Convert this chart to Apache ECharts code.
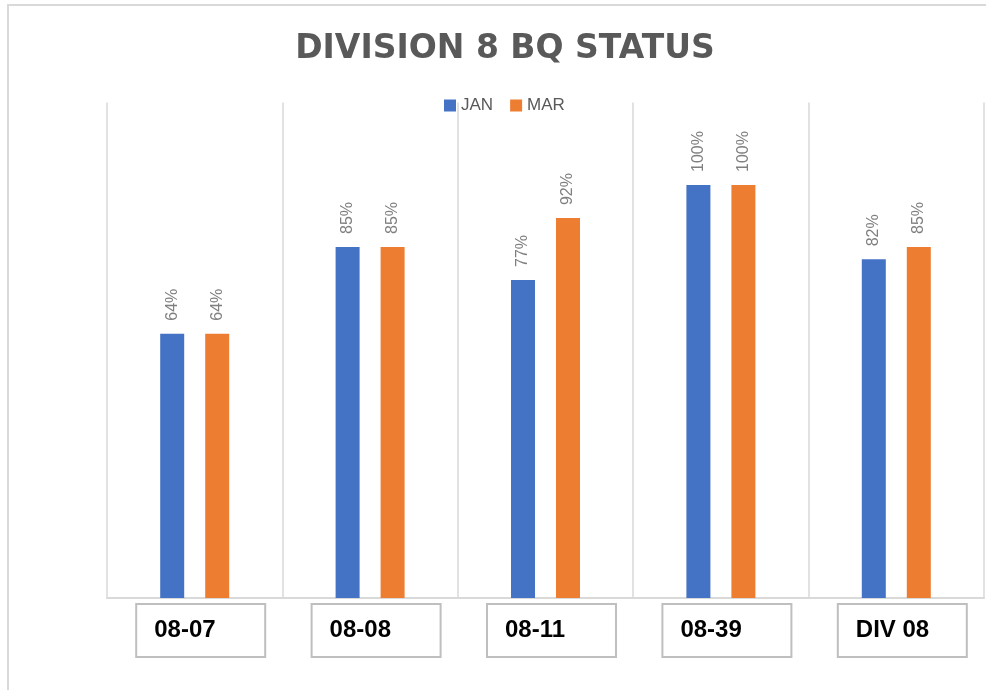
<!DOCTYPE html>
<html>
<head>
<meta charset="utf-8">
<script src="https://cdn.jsdelivr.net/npm/echarts@6/dist/echarts.min.js"></script>
<style>
  html, body { margin: 0; padding: 0; background: #fff; }
  #frame { position: absolute; left: 7px; top: 4px; width: 1000px; height: 700px;
           border-left: 2px solid #d9d9d9; border-top: 2px solid #d9d9d9; }
  #main { position: absolute; left: 0; top: 0; width: 986px; height: 690px; }
</style>
</head>
<body>
<div id="frame"></div>
<div id="main"></div>
<script>
// 数据
var categories = ['08-07', '08-08', '08-11', '08-39', 'DIV 08'];
var janValues = [64, 85, 77, 100, 82];
var marValues = [64, 85, 92, 100, 85];
var seriesNames = ['JAN', 'MAR'];

(function(){
    var chart = echarts.init(document.getElementById('main'));
    var catFont = 'bold 24px "Liberation Sans"';
    // 量一下文字宽度, 让框里的文字靠左
    var ctx = document.createElement('canvas').getContext('2d');
    ctx.font = catFont;
    var rich = { pad: { width: 12 } };
    for (var i = 0; i < categories.length; i++) {
        var w = ctx.measureText(categories[i]).width;
        rich['b' + i] = {
            height: 25,
            padding: [14, Math.max(0, 111 - w), 14, 18],
            borderColor: '#bfbfbf',
            borderWidth: 2,
            fontFamily: 'Liberation Sans',
            fontWeight: 'bold',
            fontSize: 24,
            color: '#000'
        };
    }
    var labelStyle = {
        show: true,
        position: 'top',
        rotate: 90,
        distance: 13,
        align: 'left',
        verticalAlign: 'middle',
        formatter: '{c}%',
        color: '#7f7f7f',
        fontSize: 16,
        fontFamily: 'Liberation Sans'
    };
    var option = {
        animation: false,
        title: {
            text: 'DIVISION 8 BQ STATUS',
            left: 500,
            textAlign: 'center',
            top: 28,
            textStyle: {
                fontFamily: 'DejaVu Sans',
                fontWeight: 'bold',
                fontSize: 33,
                color: '#595959'
            }
        },
        legend: {
            data: seriesNames,
            left: 439,
            top: 92,
            icon: 'rect',
            itemWidth: 12,
            itemHeight: 12,
            itemGap: 17,
            textStyle: { fontFamily: 'Liberation Sans', fontSize: 17, color: '#595959' }
        },
        grid: { left: 107, right: 2, top: 102.4, bottom: 92, containLabel: false },
        xAxis: {
            type: 'category',
            data: categories,
            axisLine: { lineStyle: { color: '#d9d9d9', width: 2 } },
            axisTick: { show: false },
            splitLine: { show: true, lineStyle: { color: '#d9d9d9', width: 1.5 } },
            axisLabel: {
                margin: 6,
                interval: 0,
                formatter: function(v, idx){ return '{pad| }{b' + idx + '|' + v + '}'; },
                rich: rich
            }
        },
        yAxis: {
            type: 'value',
            min: 0,
            max: 120,
            show: false,
            splitLine: { show: false }
        },
        series: [
            {
                name: seriesNames[0],
                type: 'bar',
                data: janValues,
                barWidth: 24,
                barGap: '87.5%',
                itemStyle: { color: '#4472c4' },
                label: labelStyle
            },
            {
                name: seriesNames[1],
                type: 'bar',
                data: marValues,
                barWidth: 24,
                barGap: '87.5%',
                itemStyle: { color: '#ed7d31' },
                label: labelStyle
            }
        ]
    };
    chart.setOption(option);
})();
</script>
</body>
</html>
